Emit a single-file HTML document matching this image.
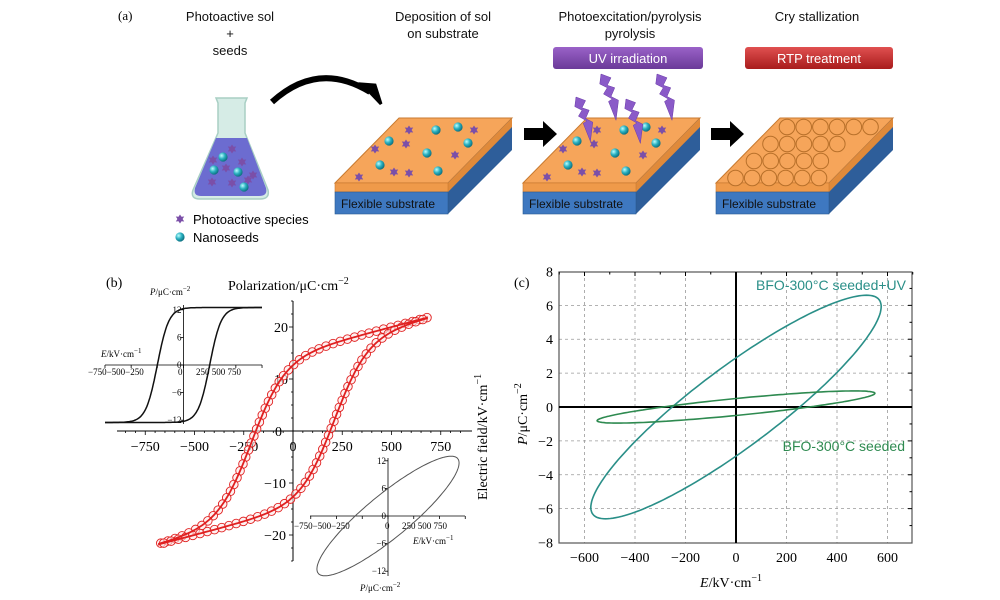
<!DOCTYPE html>
<html><head><meta charset="utf-8"><style>
body{margin:0;background:#fff}
svg{display:block}
.s{font-family:"Liberation Sans",sans-serif}
.r{font-family:"Liberation Serif",serif}
</style></head><body>
<svg id="sv" width="1000" height="600" viewBox="0 0 1000 600" xmlns="http://www.w3.org/2000/svg">
<defs>
<radialGradient id="ball" cx="0.35" cy="0.35" r="0.7"><stop offset="0" stop-color="#bff"/><stop offset="0.5" stop-color="#2ab0c0"/><stop offset="1" stop-color="#0a6a7a"/></radialGradient>
<linearGradient id="uv" x1="0" y1="0" x2="0" y2="1"><stop offset="0" stop-color="#9a62c8"/><stop offset="1" stop-color="#6a3a98"/></linearGradient>
<linearGradient id="rtp" x1="0" y1="0" x2="0" y2="1"><stop offset="0" stop-color="#e05050"/><stop offset="1" stop-color="#a81c1c"/></linearGradient>
<g id="star"><path d="M0,-4.5 L1.5,-2.2 4.2,-2.5 2.6,0 4.2,2.5 1.5,2.2 0,4.5 -1.5,2.2 -4.2,2.5 -2.6,0 -4.2,-2.5 -1.5,-2.2Z" fill="#7b4fa8"/></g>
<g id="ball1"><circle r="4.6" fill="url(#ball)"/></g>
</defs>
<text x="118" y="20" class="r" font-size="13">(a)</text>
<g class="s" font-size="13" text-anchor="middle" fill="#111">
<text x="230" y="21">Photoactive sol</text><text x="230" y="38">+</text><text x="230" y="55">seeds</text>
<text x="443" y="21">Deposition of sol</text><text x="443" y="38">on substrate</text>
<text x="630" y="21">Photoexcitation/pyrolysis</text><text x="630" y="38">pyrolysis</text>
<text x="817" y="21">Cry stallization</text>
</g>
<rect x="553" y="47" width="150" height="22" rx="3" fill="url(#uv)"/>
<text x="628" y="63" class="s" font-size="13" fill="#fff" text-anchor="middle">UV irradiation</text>
<rect x="745" y="47" width="148" height="22" rx="3" fill="url(#rtp)"/>
<text x="819" y="63" class="s" font-size="13" fill="#fff" text-anchor="middle">RTP treatment</text>
<path d="M216,98 L247,98 L245,103 L245,133 L268,190 Q270,199 260,199 L200,199 Q190,199 193,190 L218,133 L218,103Z" fill="#d6ece6" stroke="#a8cfc4" stroke-width="1.5"/>
<path d="M216,138 L247,138 L266,188 Q268,196 259,196 L201,196 Q193,196 195,188Z" fill="#6c6cd0"/>
<g id="flaskp"></g>
<path d="M272,102 Q318,60 370,92" fill="none" stroke="#000" stroke-width="6"/>
<path d="M362,84 L381,104 L375,85Z" fill="#000" stroke="#000" stroke-width="3"/>
<use href="#star" x="180" y="219"/><text x="193" y="224" class="s" font-size="13">Photoactive species</text>
<use href="#ball1" x="180" y="237"/><text x="193" y="242" class="s" font-size="13">Nanoseeds</text>
<g id="subs"></g>
<path d="M524,128 L543,128 L543,121 L557,134 L543,147 L543,140 L524,140Z" fill="#000"/>
<path d="M711,128 L730,128 L730,121 L744,134 L730,147 L730,140 L711,140Z" fill="#000"/>
<g id="bolts"></g>
<text x="106" y="287" class="r" font-size="14">(b)</text>
<text x="228" y="290" class="r" font-size="14">Polarization/μC·cm<tspan dy="-6" font-size="10">−2</tspan></text>
<text transform="translate(487,500) rotate(-90)" class="r" font-size="14">Electric field/kV·cm<tspan dy="-6" font-size="10">−1</tspan></text>
<g id="pb"></g>
<g id="pc"></g>
</svg>
<script>
var NS="http://www.w3.org/2000/svg";
function el(p,t,a,txt){var e=document.createElementNS(NS,t);for(var k in a)e.setAttribute(k,a[k]);if(txt!=null)e.textContent=txt;p.appendChild(e);return e;}
function use(p,id,x,y){var e=document.createElementNS(NS,'use');e.setAttribute('href','#'+id);e.setAttribute('x',x);e.setAttribute('y',y);p.appendChild(e);}
var fp=document.getElementById('flaskp');
[[232,149],[213,160],[242,162],[226,168],[253,175],[212,182],[232,183],[248,180]].forEach(function(a){use(fp,'star',a[0],a[1]);});
[[223,157],[214,170],[238,172],[244,187]].forEach(function(a){use(fp,'ball1',a[0],a[1]);});
var sb=document.getElementById('subs');
function sub(x0){
 var dx=64,dy=65,w=113;
 el(sb,'path',{d:'M'+x0+',183 L'+(x0+dx)+',118 L'+(x0+w+dx)+',118 L'+(x0+w)+',183Z',fill:'#f6a55a',stroke:'#c87a30','stroke-width':1});
 el(sb,'path',{d:'M'+(x0+w)+',183 L'+(x0+w+dx)+',118 L'+(x0+w+dx)+',150 L'+(x0+w)+',214Z',fill:'#2e5e9a'});
 el(sb,'path',{d:'M'+(x0+w)+',183 L'+(x0+w+dx)+',118 L'+(x0+w+dx)+',127 L'+(x0+w)+',192Z',fill:'#e08a3a'});
 el(sb,'rect',{x:x0,y:183,width:w,height:9,fill:'#ef9a4a',stroke:'#c87a30','stroke-width':0.6});
 el(sb,'rect',{x:x0,y:192,width:w,height:22,fill:'#3e78c0',stroke:'#2a5a90','stroke-width':0.6});
 el(sb,'text',{x:x0+6,y:208,'class':'s','font-size':12,fill:'#111'},'Flexible substrate');
}
sub(335);sub(523);sub(716);
var s1=[[409,130],[474,130],[375,149],[406,144],[455,155],[394,172],[409,173],[359,177]],b1=[[436,130],[458,127],[389,141],[468,143],[427,153],[380,165],[438,171]];
s1.forEach(function(a){use(sb,'star',a[0],a[1]);use(sb,'star',a[0]+188,a[1]);});
b1.forEach(function(a){use(sb,'ball1',a[0],a[1]);use(sb,'ball1',a[0]+188,a[1]);});
for(var r=0;r<4;r++){var y=127+r*17;var xs=787-r*16.5;var n=[6,5,5,6][r];for(var i=0;i<n;i++){el(sb,'circle',{cx:xs+i*16.7+(r==3?-2:0),cy:y,r:7.8,fill:'#f6a55a',stroke:'#b8702a','stroke-width':1});}}
var bo=document.getElementById('bolts');
function bolt(x,y,s){el(bo,'path',{d:'M'+x+','+y+' l'+(8*s)+','+(3*s)+' l'+(-3*s)+','+(6*s)+' l'+(6*s)+','+(2*s)+' l'+(-3*s)+','+(7*s)+' l'+(6*s)+','+(3*s)+' l'+(-2*s)+','+(16*s)+' l'+(-6*s)+','+(-15*s)+' l'+(3*s)+','+(-2*s)+' l'+(-7*s)+','+(-4*s)+' l'+(3*s)+','+(-5*s)+' l'+(-6*s)+','+(-3*s)+'Z',fill:'#8a5ac8',stroke:'#6a3aa8','stroke-width':0.5});}
bolt(576,97,1.2);bolt(601,74,1.25);bolt(626,99,1.2);bolt(657,74,1.25);
var pb=document.getElementById('pb');
function X(E){return 293+E*0.197;} function Y(P){return 431-P*5.2;}
el(pb,'line',{x1:117,y1:431,x2:472,y2:431,stroke:'#000','stroke-width':1});
el(pb,'line',{x1:293,y1:301,x2:293,y2:561,stroke:'#000','stroke-width':1});
for(var e=-850;e<=850;e+=50){el(pb,'line',{x1:X(e),y1:431,x2:X(e),y2:e%250==0?435:433,stroke:'#000','stroke-width':0.8});}
for(var p=-25;p<=25;p+=2.5){el(pb,'line',{x1:293,y1:Y(p),x2:p%10==0?289:291,y2:Y(p),stroke:'#000','stroke-width':0.8});}
[-750,-500,-250,0,250,500,750].forEach(function(e){el(pb,'text',{x:X(e),y:451,'class':'r','font-size':14,'text-anchor':'middle'},e<0?'−'+(-e):''+e);});
[[20,'20'],[10,'10'],[0,'0'],[-10,'−10'],[-20,'−20']].forEach(function(a){el(pb,'text',{x:a[0]==0?282:(a[0]<0?286:288),y:Y(a[0])+5,'class':'r','font-size':14,'text-anchor':'end'},a[1]);});
function up(E){return 15*Math.tanh((E+210)/170)+0.01*E;}
function lo(E){return -up(-E);}
var d='';
for(var E=680;E>=-680;E-=10){d+=(d?'L':'M')+X(E).toFixed(1)+','+Y(up(E)).toFixed(1);}
for(var E=-680;E<=680;E+=10){d+='L'+X(E).toFixed(1)+','+Y(lo(E)).toFixed(1);}
var path=el(pb,'path',{d:d+'Z',fill:'none',stroke:'#e02020','stroke-width':1.8});
var L=path.getTotalLength();
for(var s=0;s<L;s+=7.5){var q=path.getPointAtLength(s);el(pb,'circle',{cx:q.x,cy:q.y,r:4.3,fill:'#fde8e8','fill-opacity':0.6,stroke:'#e02020','stroke-width':0.9});}
pb.appendChild(path);
function X1(E){return 183.5+E*0.1047;} function Y1(P){return 365-P*4.6;}
el(pb,'line',{x1:105,y1:Y1(0),x2:262,y2:Y1(0),stroke:'#000','stroke-width':0.8});
el(pb,'line',{x1:X1(0),y1:305,x2:X1(0),y2:424,stroke:'#000','stroke-width':0.8});
[-750,-500,-250,0,250,500,750].forEach(function(e){el(pb,'line',{x1:X1(e),y1:Y1(0),x2:X1(e),y2:Y1(0)+3,stroke:'#000','stroke-width':0.8});});
el(pb,'text',{x:88,y:375,'class':'r','font-size':9},'−750−500−250');
el(pb,'text',{x:178,y:375,'class':'r','font-size':9},'0');
el(pb,'text',{x:196,y:375,'class':'r','font-size':9},'250  500  750');
[[12,'12'],[6,'6'],[0,'0'],[-6,'−6'],[-12,'−12']].forEach(function(a){el(pb,'line',{x1:X1(0),y1:Y1(a[0]),x2:X1(0)-3,y2:Y1(a[0]),stroke:'#000','stroke-width':0.8});el(pb,'text',{x:X1(0)-2,y:Y1(a[0])+3,'class':'r','font-size':9,'text-anchor':'end'},a[1]);});
el(pb,'text',{x:150,y:295,'class':'r','font-size':9}).innerHTML='<tspan font-style="italic">P</tspan>/μC·cm<tspan dy="-4" font-size="7">−2</tspan>';
el(pb,'text',{x:101,y:357,'class':'r','font-size':9}).innerHTML='<tspan font-style="italic">E</tspan>/kV·cm<tspan dy="-4" font-size="7">−1</tspan>';
var d1='',d2='';
for(var E=-750;E<=750;E+=10){d1+=(d1?'L':'M')+X1(E).toFixed(1)+','+Y1(12.5*Math.tanh((E+250)/110)).toFixed(1);d2+=(d2?'L':'M')+X1(E).toFixed(1)+','+Y1(12.5*Math.tanh((E-250)/110)).toFixed(1);}
el(pb,'path',{d:d1,fill:'none',stroke:'#111','stroke-width':1.5});el(pb,'path',{d:d2,fill:'none',stroke:'#111','stroke-width':1.5});
function X2(E){return 388+E*0.103;} function Y2(P){return 516-P*4.6;}
el(pb,'line',{x1:310,y1:516,x2:465,y2:516,stroke:'#000','stroke-width':0.8});
el(pb,'line',{x1:388,y1:458,x2:388,y2:576,stroke:'#000','stroke-width':0.8});
[-750,-500,-250,0,250,500,750].forEach(function(e){el(pb,'line',{x1:X2(e),y1:516,x2:X2(e),y2:519,stroke:'#000','stroke-width':0.8});});
el(pb,'text',{x:294,y:529,'class':'r','font-size':9},'−750−500−250');
el(pb,'text',{x:385,y:529,'class':'r','font-size':9},'0');
el(pb,'text',{x:402,y:529,'class':'r','font-size':9},'250  500  750');
[[12,'12'],[6,'6'],[0,'0'],[-6,'−6'],[-12,'−12']].forEach(function(a){el(pb,'line',{x1:388,y1:Y2(a[0]),x2:385,y2:Y2(a[0]),stroke:'#000','stroke-width':0.8});el(pb,'text',{x:386,y:Y2(a[0])+3,'class':'r','font-size':9,'text-anchor':'end'},a[1]);});
el(pb,'text',{x:413,y:544,'class':'r','font-size':9}).innerHTML='<tspan font-style="italic">E</tspan>/kV·cm<tspan dy="-4" font-size="7">−1</tspan>';
el(pb,'text',{x:360,y:591,'class':'r','font-size':9}).innerHTML='<tspan font-style="italic">P</tspan>/μC·cm<tspan dy="-4" font-size="7">−2</tspan>';
function ell(fx,fy,A,B,c){var ph=Math.acos(c/B);var s='';for(var t=0;t<=360;t+=2){var r=t*Math.PI/180;s+=(s?'L':'M')+fx(A*Math.cos(r)).toFixed(1)+','+fy(B*Math.sin(r+ph)).toFixed(1);}return s+'Z';}
el(pb,'path',{d:ell(X2,Y2,690,13,6),fill:'none',stroke:'#555','stroke-width':1});
var pc=document.getElementById('pc');
function X3(E){return 736+E*0.2525;} function Y3(P){return 407-P*16.94;}
for(var e=-600;e<=600;e+=200){if(e)el(pc,'line',{x1:X3(e),y1:272,x2:X3(e),y2:543,stroke:'#999','stroke-width':0.8,'stroke-dasharray':'3,3'});}
for(var p=-6;p<=6;p+=2){if(p)el(pc,'line',{x1:559,y1:Y3(p),x2:912,y2:Y3(p),stroke:'#999','stroke-width':0.8,'stroke-dasharray':'3,3'});}
el(pc,'rect',{x:559,y:272,width:353,height:271,fill:'none',stroke:'#555','stroke-width':1.2});
el(pc,'line',{x1:559,y1:407,x2:912,y2:407,stroke:'#000','stroke-width':2});
el(pc,'line',{x1:736,y1:272,x2:736,y2:543,stroke:'#000','stroke-width':2});
for(var e=-700;e<=700;e+=100){el(pc,'line',{x1:X3(e),y1:272,x2:X3(e),y2:e%200==0?276:274.5,stroke:'#000','stroke-width':1});}
for(var p=-7;p<=7;p+=1){el(pc,'line',{x1:912,y1:Y3(p),x2:p%2==0?908:909.5,y2:Y3(p),stroke:'#000','stroke-width':1});}
for(var e=-600;e<=600;e+=200){el(pc,'text',{x:X3(e),y:562,'class':'r','font-size':14,'text-anchor':'middle'},e<0?'−'+(-e):''+e);}
for(var p=-8;p<=8;p+=2){el(pc,'text',{x:553,y:Y3(p)+5,'class':'r','font-size':14,'text-anchor':'end'},p<0?'−'+(-p):''+p);}
el(pc,'text',{x:514,y:287,'class':'r','font-size':14},'(c)');
el(pc,'text',{x:700,y:587,'class':'r','font-size':14}).innerHTML='<tspan font-style="italic">E</tspan>/kV·cm<tspan dy="-6" font-size="10">−1</tspan>';
el(pc,'text',{transform:'translate(527,445) rotate(-90)','class':'r','font-size':14}).innerHTML='<tspan font-style="italic">P</tspan>/μC·cm<tspan dy="-6" font-size="10">−2</tspan>';
el(pc,'path',{d:ell(X3,Y3,575,6.6,2.9),fill:'none',stroke:'#2a8f88','stroke-width':1.6});
el(pc,'path',{d:ell(X3,Y3,550,0.95,0.5),fill:'none',stroke:'#2e8a50','stroke-width':1.6});
el(pc,'text',{x:906,y:290,'class':'s','font-size':14,fill:'#2a8f88','text-anchor':'end'},'BFO-300°C seeded+UV');
el(pc,'text',{x:905,y:451,'class':'s','font-size':14,fill:'#2e8a50','text-anchor':'end'},'BFO-300°C seeded');
</script>
</body></html>
